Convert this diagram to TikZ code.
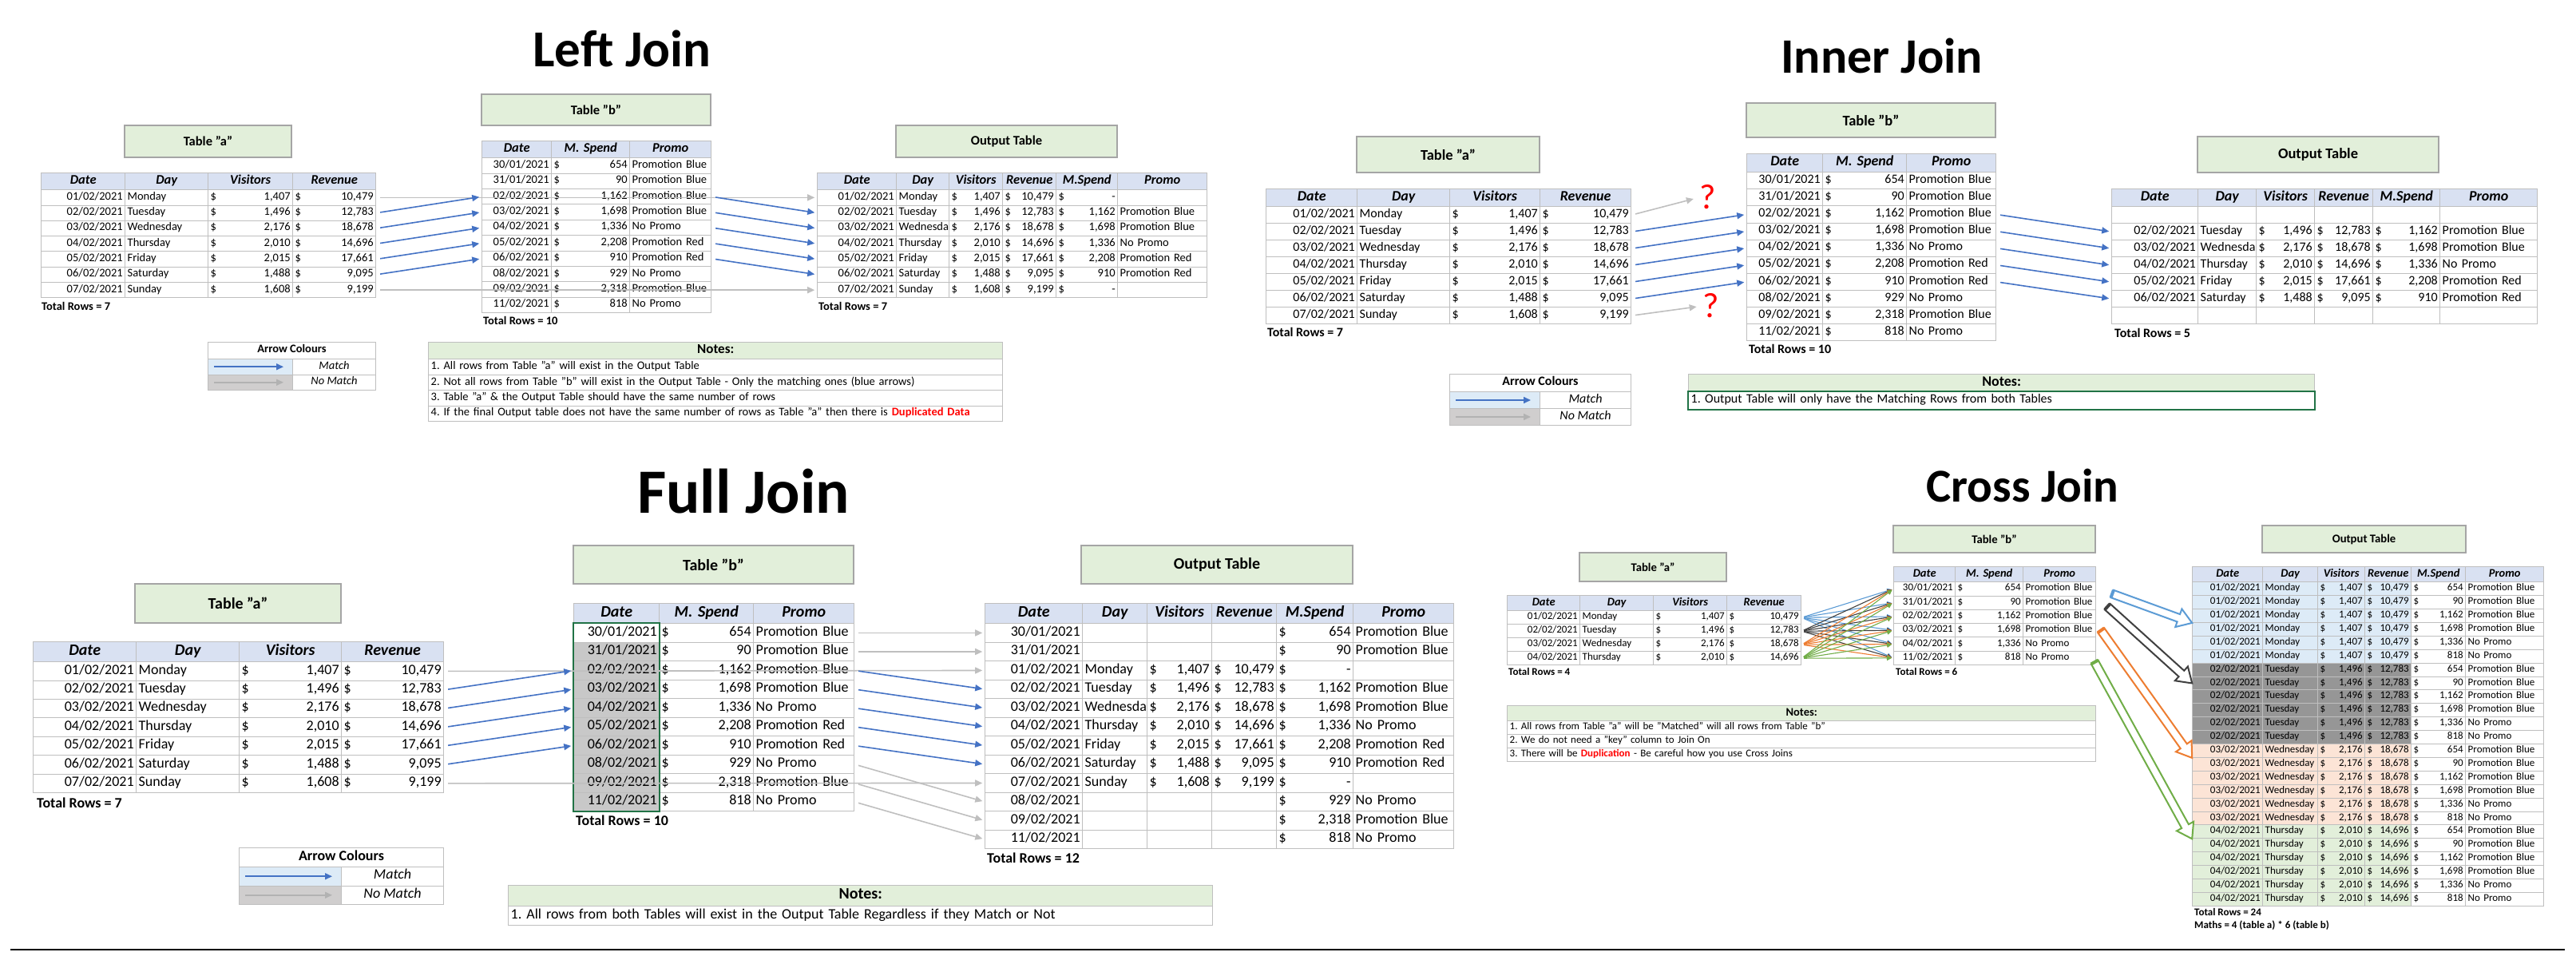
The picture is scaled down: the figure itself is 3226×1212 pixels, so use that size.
\documentclass[tikz,border=0pt]{standalone}
\usepackage{fontspec}
\setmainfont{Carlito}
\frenchspacing
\usetikzlibrary{matrix,calc,arrows.meta,backgrounds}

\definecolor{gridgray}{RGB}{191,191,191}
\definecolor{hdrblue}{RGB}{217,225,242}
\definecolor{titlegreen}{RGB}{226,239,218}
\definecolor{boxgray}{RGB}{165,165,165}
\definecolor{arrblue}{RGB}{68,114,196}
\definecolor{arrgrey}{RGB}{191,191,191}
\definecolor{matchfill}{RGB}{221,235,247}
\definecolor{nomatchfill}{RGB}{208,206,206}
\definecolor{selgreen}{RGB}{33,115,70}
\definecolor{selgrey}{RGB}{200,200,200}
\definecolor{dupred}{RGB}{255,0,0}
\definecolor{cblue}{RGB}{91,155,213}
\definecolor{cdark}{RGB}{64,64,64}
\definecolor{corange}{RGB}{237,125,49}
\definecolor{cgreen}{RGB}{112,173,71}
\definecolor{monfill}{RGB}{221,235,247}
\definecolor{tuefill}{RGB}{150,150,150}
\definecolor{wedfill}{RGB}{252,228,214}
\definecolor{thufill}{RGB}{226,239,218}

\newcommand{\fs}[1]{\fontsize{#1}{#1}\selectfont}

\tikzset{
  cell/.style={draw=gridgray, line width=1pt, inner xsep=3pt, inner ysep=0pt, align=left, execute at begin node=\strut},
  xltab/.style={matrix of nodes, nodes in empty cells, anchor=north west, inner sep=0pt, row sep=-1pt, column sep=-1pt, nodes={cell}},
  tab/.style n args={4}{nodes={font=\fs{#1}, minimum height=#2}, row 1/.style={nodes={fill=hdrblue, align=center, minimum height=#3, font=\fs{#4}\bfseries\itshape}}},
  notes/.style n args={4}{nodes={font=\fs{#1}, minimum height=#2}, row 1/.style={nodes={fill=titlegreen, align=center, minimum height=#3, font=\fs{#4}\bfseries}}},
  tbox/.style={draw=boxgray, fill=titlegreen, line width=1.5pt, inner sep=0pt},
  jtitle/.style={inner sep=0pt, anchor=base},
  total/.style={inner sep=0pt, anchor=west},
  bluearr/.style={draw=arrblue, line width=1.6pt, -{Triangle[length=9pt,width=8pt]}, shorten <=5pt, shorten >=3pt},
  greyarr/.style={bluearr, draw=arrgrey},
  crossarr/.style={line width=1.1pt, -{Triangle[length=6pt,width=6pt]}, shorten <=3pt, shorten >=2pt}
}

% legend box: name, x, y, col widths, header height, row height, font size
\newcommand{\arrowkey}[8]{%
  \node[cell, anchor=north west, minimum width=#4pt+#5pt, minimum height=#6pt, font=\fs{#8}\bfseries] (#1-h) at (#2,#3) {Arrow Colours};
  \node[cell, anchor=north west, fill=matchfill, minimum width=#4pt, minimum height=#7pt] (#1-m) at (#2,#3+#6) {};
  \node[cell, anchor=north west, minimum width=#5pt, minimum height=#7pt, font=\fs{#8}\itshape] (#1-mt) at (#2+#4,#3+#6) {Match};
  \node[cell, anchor=north west, fill=nomatchfill, minimum width=#4pt, minimum height=#7pt] (#1-n) at (#2,#3+#6+#7) {};
  \node[cell, anchor=north west, minimum width=#5pt, minimum height=#7pt, font=\fs{#8}\itshape] (#1-nt) at (#2+#4,#3+#6+#7) {No Match};
  \draw[bluearr, shorten <=8pt, shorten >=12pt] (#1-m.west) -- (#1-m.east);
  \draw[greyarr, draw=gray!60, shorten <=8pt, shorten >=12pt] (#1-n.west) -- (#1-n.east);
}

% hollow block arrow: from, to, colour
\newcommand{\blockarrow}[3]{%
  \coordinate (bh) at ($(#2)!18pt!(#1)$);
  \draw[draw=#3, line width=2pt, fill=white]
    ($(#1)!5pt!90:(#2)$) -- ($(bh)!5pt!90:(#2)$) -- ($(bh)!12pt!90:(#2)$) -- (#2)
    -- ($(bh)!12pt!-90:(#2)$) -- ($(bh)!5pt!-90:(#2)$) -- ($(#1)!5pt!-90:(#2)$) -- cycle;
  \draw[draw=#3, line width=4pt] ($(#1)!5pt!90:(#2)$) -- ($(#1)!5pt!-90:(#2)$);
}

\begin{document}
\begin{tikzpicture}[x=1pt, y=-1pt]
\useasboundingbox (0,0) rectangle (3226,1212);

% ================= Left Join =================
\node[jtitle, font=\fs{65}\bfseries] (ljtitle) at (779,84) {Left Join};
\node[tbox, font=\fs{16.5}\bfseries, minimum width=209pt, minimum height=40pt] (ljta) at (260.5,177) {Table "a"};
\node[tbox, font=\fs{16.5}\bfseries, minimum width=287pt, minimum height=39pt] (ljtb) at (746.5,137.5) {Table "b"};
\node[tbox, font=\fs{16.5}\bfseries, minimum width=277pt, minimum height=40pt] (ljto) at (1260.5,177) {Output Table};

\matrix (la) [xltab, tab={14.5}{19.3pt}{21pt}{16.5},
  column 1/.style={nodes={text width=99pt, align=right}}, column 2/.style={nodes={text width=98pt}},
  column 3/.style={nodes={text width=100pt}}, column 4/.style={nodes={text width=98pt}}] at (51,216) {
Date & Day & Visitors & Revenue \\
01/02/2021 & Monday & \$\hfill 1,407 & \$\hfill 10,479 \\
02/02/2021 & Tuesday & \$\hfill 1,496 & \$\hfill 12,783 \\
03/02/2021 & Wednesday & \$\hfill 2,176 & \$\hfill 18,678 \\
04/02/2021 & Thursday & \$\hfill 2,010 & \$\hfill 14,696 \\
05/02/2021 & Friday & \$\hfill 2,015 & \$\hfill 17,661 \\
06/02/2021 & Saturday & \$\hfill 1,488 & \$\hfill 9,095 \\
07/02/2021 & Sunday & \$\hfill 1,608 & \$\hfill 9,199 \\
};
\node[total, font=\fs{14.5}\bfseries] (latotal) at (52,383) {Total Rows = 7};

\matrix (lb) [xltab, tab={14.5}{19.4pt}{21pt}{16.5},
  column 1/.style={nodes={text width=81pt, align=right}}, column 2/.style={nodes={text width=92pt}},
  column 3/.style={nodes={text width=96pt}}] at (603,176) {
Date & M. Spend & Promo \\
30/01/2021 & \$\hfill 654 & Promotion Blue \\
31/01/2021 & \$\hfill 90 & Promotion Blue \\
02/02/2021 & \$\hfill 1,162 & Promotion Blue \\
03/02/2021 & \$\hfill 1,698 & Promotion Blue \\
04/02/2021 & \$\hfill 1,336 & No Promo \\
05/02/2021 & \$\hfill 2,208 & Promotion Red \\
06/02/2021 & \$\hfill 910 & Promotion Red \\
08/02/2021 & \$\hfill 929 & No Promo \\
09/02/2021 & \$\hfill 2,318 & Promotion Blue \\
11/02/2021 & \$\hfill 818 & No Promo \\
};
\node[total, font=\fs{14.5}\bfseries] (lbtotal) at (605,401) {Total Rows = 10};

\matrix (lo) [xltab, tab={14.5}{19.3pt}{21pt}{16.5},
  column 1/.style={nodes={text width=93pt, align=right}}, column 2/.style={nodes={text width=60pt}},
  column 3/.style={nodes={text width=61pt}}, column 4/.style={nodes={text width=61pt}},
  column 5/.style={nodes={text width=71pt}}, column 6/.style={nodes={text width=106pt}}] at (1023,216) {
Date & Day & Visitors & Revenue & M.Spend & Promo \\
01/02/2021 & Monday & \$\hfill 1,407 & \$\hfill 10,479 & \$\hfill -\hspace{1.6em} & \\
02/02/2021 & Tuesday & \$\hfill 1,496 & \$\hfill 12,783 & \$\hfill 1,162 & Promotion Blue \\
03/02/2021 & Wednesda & \$\hfill 2,176 & \$\hfill 18,678 & \$\hfill 1,698 & Promotion Blue \\
04/02/2021 & Thursday & \$\hfill 2,010 & \$\hfill 14,696 & \$\hfill 1,336 & No Promo \\
05/02/2021 & Friday & \$\hfill 2,015 & \$\hfill 17,661 & \$\hfill 2,208 & Promotion Red \\
06/02/2021 & Saturday & \$\hfill 1,488 & \$\hfill 9,095 & \$\hfill 910 & Promotion Red \\
07/02/2021 & Sunday & \$\hfill 1,608 & \$\hfill 9,199 & \$\hfill -\hspace{1.6em} & \\
};
\node[total, font=\fs{14.5}\bfseries] (lototal) at (1025,383) {Total Rows = 7};

\arrowkey{ljkey}{260}{428}{106}{104}{21}{19.5}{14.5}

\matrix (ljn) [xltab, notes={14.5}{19.5pt}{21pt}{17}, column 1/.style={nodes={text width=713pt}}] at (536,428) {
Notes: \\
1. All rows from Table "a" will exist in the Output Table \\
2. Not all rows from Table "b" will exist in the Output Table - Only the matching ones (blue arrows) \\
3. Table "a" \& the Output Table should have the same number of rows \\
4. If the final Output table does not have the same number of rows as Table "a" then there is {\color{dupred}\bfseries Duplicated Data} \\
};

\draw[greyarr] (la-2-4.east) -- (lo-2-1.west);
\draw[greyarr] (la-8-4.east) -- (lo-8-1.west);
\foreach \s [count=\r from 3] in {4,...,8} {
  \draw[bluearr] (la-\r-4.east) -- (lb-\s-1.west);
  \draw[bluearr] (lb-\s-3.east) -- (lo-\r-1.west);
}

% ================= Inner Join =================
\node[jtitle, font=\fs{62}\bfseries, anchor=base west] (ijtitle) at (2230,92) {Inner Join};
\node[tbox, font=\fs{18.5}\bfseries, minimum width=229pt, minimum height=45pt] (ijta) at (1813.5,193.5) {Table "a"};
\node[tbox, font=\fs{18.5}\bfseries, minimum width=312pt, minimum height=43pt] (ijtb) at (2343,150.5) {Table "b"};
\node[tbox, font=\fs{18.5}\bfseries, minimum width=302pt, minimum height=45pt] (ijto) at (2903,193.5) {Output Table};

\matrix (ia) [xltab, tab={16}{21pt}{22pt}{18},
  column 1/.style={nodes={text width=108pt, align=right}}, column 2/.style={nodes={text width=110pt}},
  column 3/.style={nodes={text width=107pt}}, column 4/.style={nodes={text width=108pt}}] at (1585,236) {
Date & Day & Visitors & Revenue \\
01/02/2021 & Monday & \$\hfill 1,407 & \$\hfill 10,479 \\
02/02/2021 & Tuesday & \$\hfill 1,496 & \$\hfill 12,783 \\
03/02/2021 & Wednesday & \$\hfill 2,176 & \$\hfill 18,678 \\
04/02/2021 & Thursday & \$\hfill 2,010 & \$\hfill 14,696 \\
05/02/2021 & Friday & \$\hfill 2,015 & \$\hfill 17,661 \\
06/02/2021 & Saturday & \$\hfill 1,488 & \$\hfill 9,095 \\
07/02/2021 & Sunday & \$\hfill 1,608 & \$\hfill 9,199 \\
};
\node[total, font=\fs{16}\bfseries] (iatotal) at (1587,416) {Total Rows = 7};

\matrix (ib) [xltab, tab={16}{21.1pt}{23pt}{18},
  column 1/.style={nodes={text width=89pt, align=right}}, column 2/.style={nodes={text width=99pt}},
  column 3/.style={nodes={text width=106pt}}] at (2187,192) {
Date & M. Spend & Promo \\
30/01/2021 & \$\hfill 654 & Promotion Blue \\
31/01/2021 & \$\hfill 90 & Promotion Blue \\
02/02/2021 & \$\hfill 1,162 & Promotion Blue \\
03/02/2021 & \$\hfill 1,698 & Promotion Blue \\
04/02/2021 & \$\hfill 1,336 & No Promo \\
05/02/2021 & \$\hfill 2,208 & Promotion Red \\
06/02/2021 & \$\hfill 910 & Promotion Red \\
08/02/2021 & \$\hfill 929 & No Promo \\
09/02/2021 & \$\hfill 2,318 & Promotion Blue \\
11/02/2021 & \$\hfill 818 & No Promo \\
};
\node[total, font=\fs{16}\bfseries] (ibtotal) at (2190,437) {Total Rows = 10};

\matrix (io) [xltab, tab={16}{21pt}{22pt}{18},
  column 1/.style={nodes={text width=102pt, align=right}}, column 2/.style={nodes={text width=67pt}},
  column 3/.style={nodes={text width=67pt}}, column 4/.style={nodes={text width=67pt}},
  column 5/.style={nodes={text width=78pt}}, column 6/.style={nodes={text width=116pt}}] at (2644,236) {
Date & Day & Visitors & Revenue & M.Spend & Promo \\
 & & & & & \\
02/02/2021 & Tuesday & \$\hfill 1,496 & \$\hfill 12,783 & \$\hfill 1,162 & Promotion Blue \\
03/02/2021 & Wednesda & \$\hfill 2,176 & \$\hfill 18,678 & \$\hfill 1,698 & Promotion Blue \\
04/02/2021 & Thursday & \$\hfill 2,010 & \$\hfill 14,696 & \$\hfill 1,336 & No Promo \\
05/02/2021 & Friday & \$\hfill 2,015 & \$\hfill 17,661 & \$\hfill 2,208 & Promotion Red \\
06/02/2021 & Saturday & \$\hfill 1,488 & \$\hfill 9,095 & \$\hfill 910 & Promotion Red \\
 & & & & & \\
};
\node[total, font=\fs{16}\bfseries] (iototal) at (2648,417) {Total Rows = 5};

\node[font=\fs{44}, text=dupred, inner sep=0pt] (q1) at (2139,247) {?};
\node[font=\fs{44}, text=dupred, inner sep=0pt] (q2) at (2143,383) {?};

\arrowkey{ijkey}{1815}{468}{113}{114}{22}{21}{16}

\matrix (ijn) [xltab, notes={16}{22pt}{22pt}{18}, column 1/.style={nodes={text width=778pt}}] at (2114,468) {
Notes: \\
1. Output Table will only have the Matching Rows from both Tables \\
};
\draw[selgreen, line width=2.5pt] (ijn-2-1.north west) rectangle (ijn-2-1.south east);

\draw[greyarr, shorten >=8pt] (ia-2-4.east) -- (q1.west);
\draw[greyarr, shorten >=8pt] (ia-8-4.east) -- (q2.west);
\foreach \s [count=\r from 3] in {4,...,8} {
  \draw[bluearr] (ia-\r-4.east) -- (ib-\s-1.west);
  \draw[bluearr] (ib-\s-3.east) -- (io-\r-1.west);
}

% ================= Full Join =================
\node[jtitle, font=\fs{79}\bfseries] (fjtitle) at (931,642) {Full Join};
\node[tbox, font=\fs{20}\bfseries, minimum width=258pt, minimum height=49pt] (fjta) at (298,755.5) {Table "a"};
\node[tbox, font=\fs{20}\bfseries, minimum width=351pt, minimum height=48pt] (fjtb) at (893.5,707) {Table "b"};
\node[tbox, font=\fs{20}\bfseries, minimum width=340pt, minimum height=48pt] (fjto) at (1524,707) {Output Table};

\matrix (fa) [xltab, tab={18}{23.4pt}{25pt}{20},
  column 1/.style={nodes={text width=123pt, align=right}}, column 2/.style={nodes={text width=123pt}},
  column 3/.style={nodes={text width=122pt}}, column 4/.style={nodes={text width=122pt}}] at (41,803) {
Date & Day & Visitors & Revenue \\
01/02/2021 & Monday & \$\hfill 1,407 & \$\hfill 10,479 \\
02/02/2021 & Tuesday & \$\hfill 1,496 & \$\hfill 12,783 \\
03/02/2021 & Wednesday & \$\hfill 2,176 & \$\hfill 18,678 \\
04/02/2021 & Thursday & \$\hfill 2,010 & \$\hfill 14,696 \\
05/02/2021 & Friday & \$\hfill 2,015 & \$\hfill 17,661 \\
06/02/2021 & Saturday & \$\hfill 1,488 & \$\hfill 9,095 \\
07/02/2021 & Sunday & \$\hfill 1,608 & \$\hfill 9,199 \\
};
\node[total, font=\fs{18}\bfseries] (fatotal) at (46,1005) {Total Rows = 7};

\matrix (fb) [xltab, tab={18}{23.5pt}{25pt}{20},
  column 1/.style={nodes={text width=101pt, align=right}}, column 2/.style={nodes={text width=112pt}},
  column 3/.style={nodes={text width=120pt}}] at (718,755) {
Date & M. Spend & Promo \\
30/01/2021 & \$\hfill 654 & Promotion Blue \\
31/01/2021 & \$\hfill 90 & Promotion Blue \\
02/02/2021 & \$\hfill 1,162 & Promotion Blue \\
03/02/2021 & \$\hfill 1,698 & Promotion Blue \\
04/02/2021 & \$\hfill 1,336 & No Promo \\
05/02/2021 & \$\hfill 2,208 & Promotion Red \\
06/02/2021 & \$\hfill 910 & Promotion Red \\
08/02/2021 & \$\hfill 929 & No Promo \\
09/02/2021 & \$\hfill 2,318 & Promotion Blue \\
11/02/2021 & \$\hfill 818 & No Promo \\
};
\node[total, font=\fs{18}\bfseries] (fbtotal) at (721,1027) {Total Rows = 10};
\draw[selgreen, line width=2.5pt] (fb-2-1.north west) rectangle (fb-11-1.south east);

\matrix (fo) [xltab, tab={18}{23.5pt}{25pt}{20},
  column 1/.style={nodes={text width=116pt, align=right}}, column 2/.style={nodes={text width=75pt}},
  column 3/.style={nodes={text width=75pt}}, column 4/.style={nodes={text width=75pt}},
  column 5/.style={nodes={text width=90pt}}, column 6/.style={nodes={text width=120pt}}] at (1233,755) {
Date & Day & Visitors & Revenue & M.Spend & Promo \\
30/01/2021 & & & & \$\hfill 654 & Promotion Blue \\
31/01/2021 & & & & \$\hfill 90 & Promotion Blue \\
01/02/2021 & Monday & \$\hfill 1,407 & \$\hfill 10,479 & \$\hfill -\hspace{1.6em} & \\
02/02/2021 & Tuesday & \$\hfill 1,496 & \$\hfill 12,783 & \$\hfill 1,162 & Promotion Blue \\
03/02/2021 & Wednesda & \$\hfill 2,176 & \$\hfill 18,678 & \$\hfill 1,698 & Promotion Blue \\
04/02/2021 & Thursday & \$\hfill 2,010 & \$\hfill 14,696 & \$\hfill 1,336 & No Promo \\
05/02/2021 & Friday & \$\hfill 2,015 & \$\hfill 17,661 & \$\hfill 2,208 & Promotion Red \\
06/02/2021 & Saturday & \$\hfill 1,488 & \$\hfill 9,095 & \$\hfill 910 & Promotion Red \\
07/02/2021 & Sunday & \$\hfill 1,608 & \$\hfill 9,199 & \$\hfill -\hspace{1.6em} & \\
08/02/2021 & & & & \$\hfill 929 & No Promo \\
09/02/2021 & & & & \$\hfill 2,318 & Promotion Blue \\
11/02/2021 & & & & \$\hfill 818 & No Promo \\
};
\node[total, font=\fs{18}\bfseries] (fototal) at (1236,1074) {Total Rows = 12};

\arrowkey{fjkey}{299}{1061}{128}{128}{24}{23.5}{18}

\matrix (fjn) [xltab, notes={18}{24pt}{26pt}{20}, column 1/.style={nodes={text width=876pt}}] at (636,1108) {
Notes: \\
1. All rows from both Tables will exist in the Output Table Regardless if they Match or Not \\
};

\draw[greyarr] (fa-2-4.east) -- (fo-4-1.west);
\draw[greyarr] (fa-8-4.east) -- (fo-10-1.west);
\foreach \s [count=\r from 3] in {4,...,8}
  \draw[bluearr] (fa-\r-4.east) -- (fb-\s-1.west);
\foreach \s [count=\r from 5] in {4,...,8}
  \draw[bluearr] (fb-\s-3.east) -- (fo-\r-1.west);
\draw[greyarr] (fb-2-3.east) -- (fo-2-1.west);
\draw[greyarr] (fb-3-3.east) -- (fo-3-1.west);
\foreach \s [count=\r from 11] in {9,10,11}
  \draw[greyarr] (fb-\s-3.east) -- (fo-\r-1.west);

% ================= Cross Join =================
\node[jtitle, font=\fs{59}\bfseries] (cjtitle) at (2533,628) {Cross Join};
\node[tbox, font=\fs{14.7}\bfseries, minimum width=184pt, minimum height=36pt] (cjta) at (2070,710) {Table "a"};
\node[tbox, font=\fs{14.7}\bfseries, minimum width=253pt, minimum height=34pt] (cjtb) at (2497.5,675) {Table "b"};
\node[tbox, font=\fs{14.7}\bfseries, minimum width=255pt, minimum height=34pt] (cjto) at (2960.5,675) {Output Table};

\matrix (ca) [xltab, tab={13}{17pt}{19pt}{14.5},
  column 1/.style={nodes={text width=85pt, align=right}}, column 2/.style={nodes={text width=86pt}},
  column 3/.style={nodes={text width=86pt}}, column 4/.style={nodes={text width=87pt}}] at (1887,745) {
Date & Day & Visitors & Revenue \\
01/02/2021 & Monday & \$\hfill 1,407 & \$\hfill 10,479 \\
02/02/2021 & Tuesday & \$\hfill 1,496 & \$\hfill 12,783 \\
03/02/2021 & Wednesday & \$\hfill 2,176 & \$\hfill 18,678 \\
04/02/2021 & Thursday & \$\hfill 2,010 & \$\hfill 14,696 \\
};
\node[total, font=\fs{13}\bfseries] (catotal) at (1889,841) {Total Rows = 4};

\matrix (cb) [xltab, tab={13}{17.3pt}{19pt}{14.5},
  column 1/.style={nodes={text width=71pt, align=right}}, column 2/.style={nodes={text width=79pt}},
  column 3/.style={nodes={text width=85pt}}] at (2371,709) {
Date & M. Spend & Promo \\
30/01/2021 & \$\hfill 654 & Promotion Blue \\
31/01/2021 & \$\hfill 90 & Promotion Blue \\
02/02/2021 & \$\hfill 1,162 & Promotion Blue \\
03/02/2021 & \$\hfill 1,698 & Promotion Blue \\
04/02/2021 & \$\hfill 1,336 & No Promo \\
11/02/2021 & \$\hfill 818 & No Promo \\
};
\node[total, font=\fs{13}\bfseries] (cbtotal) at (2374,841) {Total Rows = 6};

\matrix (cjn) [xltab, notes={13}{17pt}{19pt}{14.5}, column 1/.style={nodes={text width=731pt}}] at (1887,883) {
Notes: \\
1. All rows from Table "a" will be "Matched" will all rows from Table "b" \\
2. We do not need a "key" column to Join On \\
3. There will be {\color{dupred}\bfseries Duplication} - Be careful how you use Cross Joins \\
};

\matrix (co) [xltab, tab={13}{16.9pt}{19pt}{14.5},
  column 1/.style={nodes={text width=82pt, align=right}}, column 2/.style={nodes={text width=63pt}},
  column 3/.style={nodes={text width=53pt}}, column 4/.style={nodes={text width=52pt}},
  column 5/.style={nodes={text width=62pt}}, column 6/.style={nodes={text width=92pt}}] at (2745,709) {
Date & Day & Visitors & Revenue & M.Spend & Promo \\
01/02/2021 & Monday & \$\hfill 1,407 & \$\hfill 10,479 & \$\hfill 654 & Promotion Blue \\
01/02/2021 & Monday & \$\hfill 1,407 & \$\hfill 10,479 & \$\hfill 90 & Promotion Blue \\
01/02/2021 & Monday & \$\hfill 1,407 & \$\hfill 10,479 & \$\hfill 1,162 & Promotion Blue \\
01/02/2021 & Monday & \$\hfill 1,407 & \$\hfill 10,479 & \$\hfill 1,698 & Promotion Blue \\
01/02/2021 & Monday & \$\hfill 1,407 & \$\hfill 10,479 & \$\hfill 1,336 & No Promo \\
01/02/2021 & Monday & \$\hfill 1,407 & \$\hfill 10,479 & \$\hfill 818 & No Promo \\
02/02/2021 & Tuesday & \$\hfill 1,496 & \$\hfill 12,783 & \$\hfill 654 & Promotion Blue \\
02/02/2021 & Tuesday & \$\hfill 1,496 & \$\hfill 12,783 & \$\hfill 90 & Promotion Blue \\
02/02/2021 & Tuesday & \$\hfill 1,496 & \$\hfill 12,783 & \$\hfill 1,162 & Promotion Blue \\
02/02/2021 & Tuesday & \$\hfill 1,496 & \$\hfill 12,783 & \$\hfill 1,698 & Promotion Blue \\
02/02/2021 & Tuesday & \$\hfill 1,496 & \$\hfill 12,783 & \$\hfill 1,336 & No Promo \\
02/02/2021 & Tuesday & \$\hfill 1,496 & \$\hfill 12,783 & \$\hfill 818 & No Promo \\
03/02/2021 & Wednesday & \$\hfill 2,176 & \$\hfill 18,678 & \$\hfill 654 & Promotion Blue \\
03/02/2021 & Wednesday & \$\hfill 2,176 & \$\hfill 18,678 & \$\hfill 90 & Promotion Blue \\
03/02/2021 & Wednesday & \$\hfill 2,176 & \$\hfill 18,678 & \$\hfill 1,162 & Promotion Blue \\
03/02/2021 & Wednesday & \$\hfill 2,176 & \$\hfill 18,678 & \$\hfill 1,698 & Promotion Blue \\
03/02/2021 & Wednesday & \$\hfill 2,176 & \$\hfill 18,678 & \$\hfill 1,336 & No Promo \\
03/02/2021 & Wednesday & \$\hfill 2,176 & \$\hfill 18,678 & \$\hfill 818 & No Promo \\
04/02/2021 & Thursday & \$\hfill 2,010 & \$\hfill 14,696 & \$\hfill 654 & Promotion Blue \\
04/02/2021 & Thursday & \$\hfill 2,010 & \$\hfill 14,696 & \$\hfill 90 & Promotion Blue \\
04/02/2021 & Thursday & \$\hfill 2,010 & \$\hfill 14,696 & \$\hfill 1,162 & Promotion Blue \\
04/02/2021 & Thursday & \$\hfill 2,010 & \$\hfill 14,696 & \$\hfill 1,698 & Promotion Blue \\
04/02/2021 & Thursday & \$\hfill 2,010 & \$\hfill 14,696 & \$\hfill 1,336 & No Promo \\
04/02/2021 & Thursday & \$\hfill 2,010 & \$\hfill 14,696 & \$\hfill 818 & No Promo \\
};
\node[total, font=\fs{13}\bfseries] (cototal) at (2748,1142) {Total Rows = 24};
\node[total, font=\fs{13}\bfseries] (comaths) at (2748,1159) {Maths = 4 (table a) * 6 (table b)};

\begin{scope}[on background layer]
  \fill[monfill] (co-2-1.north west) rectangle (co-7-4.south east);
  \fill[tuefill] (co-8-1.north west) rectangle (co-13-4.south east);
  \fill[wedfill] (co-14-1.north west) rectangle (co-19-4.south east);
  \fill[thufill] (co-20-1.north west) rectangle (co-25-4.south east);
  \fill[selgrey] (fb-3-1.north west) rectangle (fb-11-1.south east);
\end{scope}

\foreach \i/\c in {2/cblue,3/cdark,4/corange,5/cgreen}
  \foreach \j in {2,...,7}
    \draw[crossarr, draw=\c] (ca-\i-4.east) -- (cb-\j-1.west);

\coordinate (tailmon) at ($(cb-2-3.south east)+(20,-3)$);
\coordinate (tailtue) at ($(cb-3-3.east)+(14,5)$);
\coordinate (tailwed) at ($(cb-5-3.east)+(6,0)$);
\coordinate (tailthu) at ($(cb-7-3.south east)+(-2,-4)$);
\blockarrow{tailmon}{co-4-1.south west}{cblue}
\blockarrow{tailtue}{co-9-1.west}{cdark}
\blockarrow{tailwed}{co-14-1.south west}{corange}
\blockarrow{tailthu}{co-20-1.south west}{cgreen}

% bottom rule
\draw[line width=2pt] (13,1189) -- (3212,1189);
\end{tikzpicture}
\end{document}
